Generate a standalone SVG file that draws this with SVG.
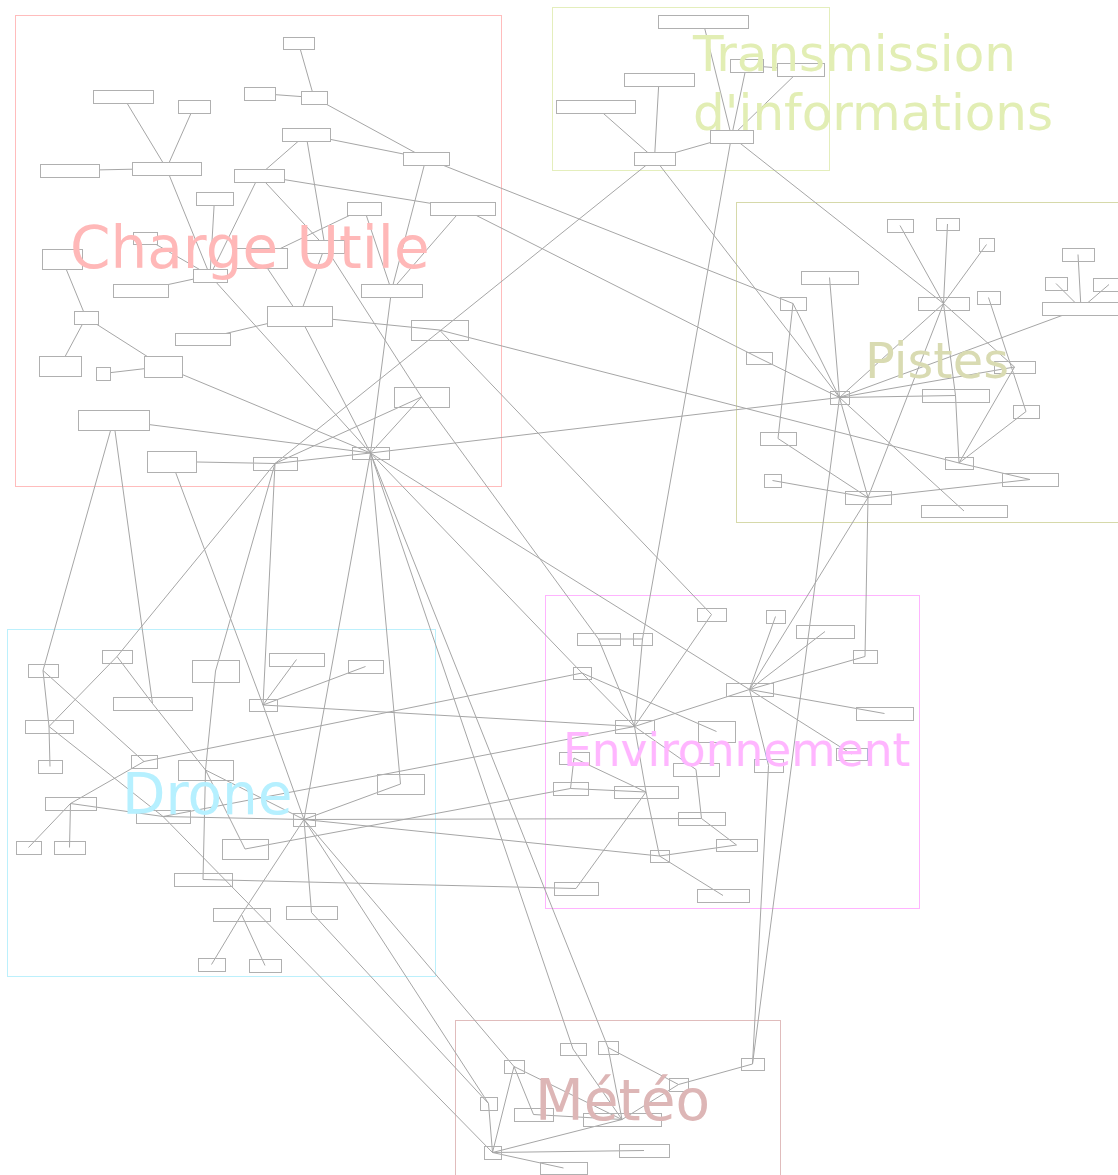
<svg xmlns="http://www.w3.org/2000/svg" width="1118" height="1175" viewBox="0 0 1118 1175">
<style>
.fr{fill:none;stroke-width:1}
.e line{stroke:#a6a6a6;stroke-width:1;fill:none}
.n rect{fill:none;stroke:#b0b0b0;stroke-width:1}
.n .o{fill:#fff}
.lb{font-family:"DejaVu Sans","Verdana",sans-serif}
</style>
<rect width="1118" height="1175" fill="#fff"/>
<g id="frames">
<rect class="fr" x="15.5" y="15.5" width="486" height="471" stroke="#ffbcbc"/>
<rect class="fr" x="552.5" y="7.5" width="277" height="163" stroke="#e4eebc"/>
<rect class="fr" x="736.5" y="202.5" width="400" height="320" stroke="#d6d9aa"/>
<rect class="fr" x="545.5" y="595.5" width="374" height="313" stroke="#ffb4ff"/>
<rect class="fr" x="7.5" y="629.5" width="428" height="347" stroke="#bcf0fc"/>
<rect class="fr" x="455.5" y="1020.5" width="325" height="170" stroke="#e0bcbc"/>
</g>
<g id="connectors" class="e">
<line x1="298.5" y1="43" x2="314" y2="97.5"/>
<line x1="259.5" y1="93.5" x2="314" y2="97.5"/>
<line x1="314" y1="97.5" x2="426" y2="158.5"/>
<line x1="123" y1="96.5" x2="166.5" y2="168.5"/>
<line x1="194" y1="106.5" x2="166.5" y2="168.5"/>
<line x1="69.5" y1="170.5" x2="166.5" y2="168.5"/>
<line x1="166.5" y1="168.5" x2="210" y2="275.5"/>
<line x1="306" y1="134.5" x2="426" y2="158.5"/>
<line x1="306" y1="134.5" x2="259" y2="175.5"/>
<line x1="306" y1="134.5" x2="325" y2="246.5"/>
<line x1="259" y1="175.5" x2="462.5" y2="208.5"/>
<line x1="259" y1="175.5" x2="210" y2="275.5"/>
<line x1="259" y1="175.5" x2="325" y2="246.5"/>
<line x1="214.5" y1="198.5" x2="210" y2="275.5"/>
<line x1="364" y1="208.5" x2="260.5" y2="258"/>
<line x1="364" y1="208.5" x2="391.5" y2="290.5"/>
<line x1="462.5" y1="208.5" x2="391.5" y2="290.5"/>
<line x1="426" y1="158.5" x2="391.5" y2="290.5"/>
<line x1="145" y1="238" x2="210" y2="275.5"/>
<line x1="62" y1="259" x2="86" y2="317.5"/>
<line x1="86" y1="317.5" x2="60" y2="366"/>
<line x1="86" y1="317.5" x2="163" y2="366.5"/>
<line x1="103" y1="373.5" x2="163" y2="366.5"/>
<line x1="140.5" y1="290.5" x2="210" y2="275.5"/>
<line x1="210" y1="275.5" x2="370.5" y2="453"/>
<line x1="260.5" y1="258" x2="299.5" y2="316"/>
<line x1="325" y1="246.5" x2="299.5" y2="316"/>
<line x1="325" y1="246.5" x2="421.5" y2="397"/>
<line x1="202.5" y1="339" x2="299.5" y2="316"/>
<line x1="299.5" y1="316" x2="439.5" y2="330"/>
<line x1="299.5" y1="316" x2="370.5" y2="453"/>
<line x1="391.5" y1="290.5" x2="370.5" y2="453"/>
<line x1="163" y1="366.5" x2="370.5" y2="453"/>
<line x1="113.5" y1="420" x2="370.5" y2="453"/>
<line x1="171.5" y1="461.5" x2="275" y2="463.5"/>
<line x1="275" y1="463.5" x2="370.5" y2="453"/>
<line x1="421.5" y1="397" x2="370.5" y2="453"/>
<line x1="421.5" y1="397" x2="275" y2="463.5"/>
<line x1="426" y1="158.5" x2="793" y2="303.5"/>
<line x1="462.5" y1="208.5" x2="759" y2="358"/>
<line x1="439.5" y1="330" x2="959" y2="463"/>
<line x1="370.5" y1="453" x2="839.5" y2="397.5"/>
<line x1="275" y1="463.5" x2="654.5" y2="158.5"/>
<line x1="439.5" y1="330" x2="711.5" y2="614.5"/>
<line x1="421.5" y1="397" x2="598.5" y2="639"/>
<line x1="113.5" y1="420" x2="43" y2="670.5"/>
<line x1="113.5" y1="420" x2="152.5" y2="703.5"/>
<line x1="171.5" y1="461.5" x2="263" y2="705"/>
<line x1="275" y1="463.5" x2="117" y2="656.5"/>
<line x1="275" y1="463.5" x2="215.5" y2="671"/>
<line x1="275" y1="463.5" x2="263" y2="705"/>
<line x1="370.5" y1="453" x2="400.5" y2="784"/>
<line x1="370.5" y1="453" x2="304" y2="819.5"/>
<line x1="370.5" y1="453" x2="582" y2="673"/>
<line x1="370.5" y1="453" x2="749.5" y2="689.5"/>
<line x1="370.5" y1="453" x2="573" y2="1049"/>
<line x1="370.5" y1="453" x2="608" y2="1047.5"/>
<line x1="703" y1="21.5" x2="731.5" y2="136.5"/>
<line x1="746.5" y1="65.5" x2="731.5" y2="136.5"/>
<line x1="746.5" y1="65.5" x2="800.5" y2="69.5"/>
<line x1="800.5" y1="69.5" x2="731.5" y2="136.5"/>
<line x1="659" y1="79.5" x2="654.5" y2="158.5"/>
<line x1="595.5" y1="106.5" x2="654.5" y2="158.5"/>
<line x1="731.5" y1="136.5" x2="654.5" y2="158.5"/>
<line x1="654.5" y1="158.5" x2="839.5" y2="397.5"/>
<line x1="731.5" y1="136.5" x2="642.5" y2="639"/>
<line x1="731.5" y1="136.5" x2="943.5" y2="303.5"/>
<line x1="900" y1="225.5" x2="943.5" y2="303.5"/>
<line x1="947.5" y1="224" x2="943.5" y2="303.5"/>
<line x1="986.5" y1="244.5" x2="943.5" y2="303.5"/>
<line x1="1078" y1="254.5" x2="1081" y2="308.5"/>
<line x1="1056" y1="283.5" x2="1081" y2="308.5"/>
<line x1="1109" y1="284.5" x2="1081" y2="308.5"/>
<line x1="1081" y1="308.5" x2="839.5" y2="397.5"/>
<line x1="829.5" y1="277.5" x2="839.5" y2="397.5"/>
<line x1="793" y1="303.5" x2="839.5" y2="397.5"/>
<line x1="793" y1="303.5" x2="778" y2="438.5"/>
<line x1="759" y1="358" x2="839.5" y2="397.5"/>
<line x1="943.5" y1="303.5" x2="839.5" y2="397.5"/>
<line x1="943.5" y1="303.5" x2="868" y2="497.5"/>
<line x1="943.5" y1="303.5" x2="955.5" y2="395.5"/>
<line x1="943.5" y1="303.5" x2="1014.5" y2="367"/>
<line x1="988.5" y1="297.5" x2="1026" y2="411.5"/>
<line x1="1014.5" y1="367" x2="839.5" y2="397.5"/>
<line x1="1014.5" y1="367" x2="959" y2="463"/>
<line x1="955.5" y1="395.5" x2="839.5" y2="397.5"/>
<line x1="955.5" y1="395.5" x2="959" y2="463"/>
<line x1="1026" y1="411.5" x2="959" y2="463"/>
<line x1="959" y1="463" x2="1030" y2="479.5"/>
<line x1="839.5" y1="397.5" x2="868" y2="497.5"/>
<line x1="839.5" y1="397.5" x2="964" y2="511"/>
<line x1="839.5" y1="397.5" x2="752.5" y2="1064"/>
<line x1="778" y1="438.5" x2="868" y2="497.5"/>
<line x1="772.5" y1="480.5" x2="868" y2="497.5"/>
<line x1="1030" y1="479.5" x2="868" y2="497.5"/>
<line x1="868" y1="497.5" x2="865" y2="656.5"/>
<line x1="868" y1="497.5" x2="749.5" y2="689.5"/>
<line x1="117" y1="656.5" x2="152.5" y2="703.5"/>
<line x1="117" y1="656.5" x2="49" y2="726.5"/>
<line x1="43" y1="670.5" x2="49" y2="726.5"/>
<line x1="43" y1="670.5" x2="144" y2="761.5"/>
<line x1="49" y1="726.5" x2="50" y2="766.5"/>
<line x1="49" y1="726.5" x2="163" y2="816.5"/>
<line x1="163" y1="816.5" x2="492.5" y2="1152.5"/>
<line x1="144" y1="761.5" x2="70.5" y2="803.5"/>
<line x1="144" y1="761.5" x2="582" y2="673"/>
<line x1="70.5" y1="803.5" x2="28.5" y2="847.5"/>
<line x1="70.5" y1="803.5" x2="69.5" y2="847.5"/>
<line x1="70.5" y1="803.5" x2="163" y2="816.5"/>
<line x1="163" y1="816.5" x2="304" y2="819.5"/>
<line x1="152.5" y1="703.5" x2="205.5" y2="770"/>
<line x1="215.5" y1="671" x2="205.5" y2="770"/>
<line x1="205.5" y1="770" x2="203" y2="879.5"/>
<line x1="205.5" y1="770" x2="245" y2="849"/>
<line x1="205.5" y1="770" x2="304" y2="819.5"/>
<line x1="296.5" y1="659.5" x2="263" y2="705"/>
<line x1="365.5" y1="666.5" x2="263" y2="705"/>
<line x1="263" y1="705" x2="634.5" y2="726.5"/>
<line x1="263" y1="705" x2="304" y2="819.5"/>
<line x1="400.5" y1="784" x2="304" y2="819.5"/>
<line x1="304" y1="819.5" x2="241.5" y2="914.5"/>
<line x1="304" y1="819.5" x2="311.5" y2="912.5"/>
<line x1="304" y1="819.5" x2="514" y2="1066.5"/>
<line x1="304" y1="819.5" x2="488.5" y2="1103.5"/>
<line x1="311.5" y1="912.5" x2="488.5" y2="1103.5"/>
<line x1="241.5" y1="914.5" x2="211.5" y2="964.5"/>
<line x1="241.5" y1="914.5" x2="265" y2="965.5"/>
<line x1="163" y1="816.5" x2="634.5" y2="726.5"/>
<line x1="245" y1="849" x2="570.5" y2="788.5"/>
<line x1="304" y1="819.5" x2="701.5" y2="818.5"/>
<line x1="304" y1="819.5" x2="659.5" y2="856"/>
<line x1="203" y1="879.5" x2="576" y2="888.5"/>
<line x1="598.5" y1="639" x2="642.5" y2="639"/>
<line x1="598.5" y1="639" x2="634.5" y2="726.5"/>
<line x1="642.5" y1="639" x2="634.5" y2="726.5"/>
<line x1="711.5" y1="614.5" x2="634.5" y2="726.5"/>
<line x1="582" y1="673" x2="634.5" y2="726.5"/>
<line x1="582" y1="673" x2="716.5" y2="731.5"/>
<line x1="634.5" y1="726.5" x2="749.5" y2="689.5"/>
<line x1="775.5" y1="616.5" x2="749.5" y2="689.5"/>
<line x1="825" y1="631.5" x2="749.5" y2="689.5"/>
<line x1="865" y1="656.5" x2="749.5" y2="689.5"/>
<line x1="749.5" y1="689.5" x2="884.5" y2="713.5"/>
<line x1="749.5" y1="689.5" x2="851.5" y2="754"/>
<line x1="749.5" y1="689.5" x2="768.5" y2="765.5"/>
<line x1="768.5" y1="765.5" x2="752.5" y2="1064"/>
<line x1="634.5" y1="726.5" x2="646" y2="792"/>
<line x1="634.5" y1="726.5" x2="696" y2="769.5"/>
<line x1="574" y1="758" x2="570.5" y2="788.5"/>
<line x1="574" y1="758" x2="646" y2="792"/>
<line x1="570.5" y1="788.5" x2="646" y2="792"/>
<line x1="646" y1="792" x2="576" y2="888.5"/>
<line x1="646" y1="792" x2="659.5" y2="856"/>
<line x1="696" y1="769.5" x2="701.5" y2="818.5"/>
<line x1="701.5" y1="818.5" x2="736.5" y2="845"/>
<line x1="659.5" y1="856" x2="736.5" y2="845"/>
<line x1="659.5" y1="856" x2="723" y2="895.5"/>
<line x1="573" y1="1049" x2="622" y2="1119.5"/>
<line x1="608" y1="1047.5" x2="622" y2="1119.5"/>
<line x1="608" y1="1047.5" x2="678.5" y2="1084.5"/>
<line x1="678.5" y1="1084.5" x2="752.5" y2="1064"/>
<line x1="678.5" y1="1084.5" x2="622" y2="1119.5"/>
<line x1="514" y1="1066.5" x2="533.5" y2="1114.5"/>
<line x1="514" y1="1066.5" x2="622" y2="1119.5"/>
<line x1="514" y1="1066.5" x2="492.5" y2="1152.5"/>
<line x1="488.5" y1="1103.5" x2="492.5" y2="1152.5"/>
<line x1="533.5" y1="1114.5" x2="622" y2="1119.5"/>
<line x1="622" y1="1119.5" x2="492.5" y2="1152.5"/>
<line x1="492.5" y1="1152.5" x2="644" y2="1150.5"/>
<line x1="492.5" y1="1152.5" x2="563.5" y2="1168"/>
</g>
<g id="nodes" class="n" transform="translate(0.5 0.5)">
<g id="c1"><rect class="o" x="283" y="37" width="31" height="12"/></g>
<g id="c2"><rect class="o" x="301" y="91" width="26" height="13"/></g>
<g id="c3"><rect class="o" x="244" y="87" width="31" height="13"/></g>
<g id="c4"><rect class="o" x="93" y="90" width="60" height="13"/></g>
<g id="c5"><rect class="o" x="178" y="100" width="32" height="13"/></g>
<g id="c6"><rect class="o" x="132" y="162" width="69" height="13"/></g>
<g id="c7"><rect class="o" x="40" y="164" width="59" height="13"/></g>
<g id="c8"><rect class="o" x="282" y="128" width="48" height="13"/></g>
<g id="c9"><rect class="o" x="403" y="152" width="46" height="13"/></g>
<g id="c10"><rect class="o" x="234" y="169" width="50" height="13"/></g>
<g id="c11"><rect class="o" x="196" y="192" width="37" height="13"/></g>
<g id="c12"><rect class="o" x="347" y="202" width="34" height="13"/></g>
<g id="c13"><rect class="o" x="430" y="202" width="65" height="13"/></g>
<g id="c14"><rect class="o" x="193" y="269" width="34" height="13"/></g>
<g id="c15"><rect class="o" x="234" y="248" width="53" height="20"/></g>
<g id="c16"><rect class="o" x="306" y="240" width="38" height="13"/></g>
<g id="c17"><rect class="o" x="267" y="306" width="65" height="20"/></g>
<g id="c18"><rect x="394" y="387" width="55" height="20"/></g>
<g id="c19"><rect class="o" x="361" y="284" width="61" height="13"/></g>
<g id="c20"><rect class="o" x="133" y="232" width="24" height="12"/></g>
<g id="c21"><rect class="o" x="42" y="249" width="40" height="20"/></g>
<g id="c22"><rect class="o" x="74" y="311" width="24" height="13"/></g>
<g id="c23"><rect class="o" x="113" y="284" width="55" height="13"/></g>
<g id="c24"><rect class="o" x="175" y="333" width="55" height="12"/></g>
<g id="c25"><rect x="411" y="320" width="57" height="20"/></g>
<g id="c26"><rect class="o" x="39" y="356" width="42" height="20"/></g>
<g id="c27"><rect class="o" x="96" y="367" width="14" height="13"/></g>
<g id="c28"><rect class="o" x="144" y="356" width="38" height="21"/></g>
<g id="c29"><rect class="o" x="78" y="410" width="71" height="20"/></g>
<g id="c30"><rect class="o" x="147" y="451" width="49" height="21"/></g>
<g id="c31"><rect x="253" y="457" width="44" height="13"/></g>
<g id="h"><rect x="352" y="447" width="37" height="12"/></g>
<g id="t1"><rect class="o" x="658" y="15" width="90" height="13"/></g>
<g id="t2"><rect class="o" x="624" y="73" width="70" height="13"/></g>
<g id="t3"><rect class="o" x="556" y="100" width="79" height="13"/></g>
<g id="t4"><rect class="o" x="730" y="59" width="33" height="13"/></g>
<g id="t5"><rect class="o" x="777" y="63" width="47" height="13"/></g>
<g id="t6"><rect class="o" x="710" y="130" width="43" height="13"/></g>
<g id="t7"><rect class="o" x="634" y="152" width="41" height="13"/></g>
<g id="p1"><rect x="887" y="219" width="26" height="13"/></g>
<g id="p2"><rect x="936" y="218" width="23" height="12"/></g>
<g id="p3"><rect x="979" y="238" width="15" height="13"/></g>
<g id="p4"><rect x="1062" y="248" width="32" height="13"/></g>
<g id="p5"><rect x="1045" y="277" width="22" height="13"/></g>
<g id="p6"><rect x="1093" y="278" width="32" height="13"/></g>
<g id="p7"><rect class="o" x="1042" y="302" width="78" height="13"/></g>
<g id="p8"><rect x="801" y="271" width="57" height="13"/></g>
<g id="p9"><rect x="780" y="297" width="26" height="13"/></g>
<g id="p10"><rect x="918" y="297" width="51" height="13"/></g>
<g id="p11"><rect x="977" y="291" width="23" height="13"/></g>
<g id="p12"><rect x="746" y="352" width="26" height="12"/></g>
<g id="p13"><rect x="994" y="361" width="41" height="12"/></g>
<g id="p14"><rect x="830" y="391" width="19" height="13"/></g>
<g id="p15"><rect x="922" y="389" width="67" height="13"/></g>
<g id="p16"><rect x="1013" y="405" width="26" height="13"/></g>
<g id="p17"><rect x="760" y="432" width="36" height="13"/></g>
<g id="p18"><rect x="945" y="457" width="28" height="12"/></g>
<g id="p19"><rect x="764" y="474" width="17" height="13"/></g>
<g id="p20"><rect x="1002" y="473" width="56" height="13"/></g>
<g id="p21"><rect x="845" y="491" width="46" height="13"/></g>
<g id="p22"><rect x="921" y="505" width="86" height="12"/></g>
<g id="d1"><rect x="28" y="664" width="30" height="13"/></g>
<g id="d2"><rect x="102" y="650" width="30" height="13"/></g>
<g id="d3"><rect x="192" y="660" width="47" height="22"/></g>
<g id="d4"><rect x="269" y="653" width="55" height="13"/></g>
<g id="d5"><rect x="348" y="660" width="35" height="13"/></g>
<g id="d6"><rect x="113" y="697" width="79" height="13"/></g>
<g id="d7"><rect x="249" y="699" width="28" height="12"/></g>
<g id="d8"><rect x="25" y="720" width="48" height="13"/></g>
<g id="d9"><rect x="38" y="760" width="24" height="13"/></g>
<g id="d10"><rect x="131" y="755" width="26" height="13"/></g>
<g id="d11"><rect x="178" y="760" width="55" height="20"/></g>
<g id="d12"><rect x="377" y="774" width="47" height="20"/></g>
<g id="d13"><rect x="45" y="797" width="51" height="13"/></g>
<g id="d14"><rect x="136" y="810" width="54" height="13"/></g>
<g id="d15"><rect x="293" y="813" width="22" height="13"/></g>
<g id="d16"><rect x="16" y="841" width="25" height="13"/></g>
<g id="d17"><rect x="54" y="841" width="31" height="13"/></g>
<g id="d18"><rect x="222" y="839" width="46" height="20"/></g>
<g id="d19"><rect x="174" y="873" width="58" height="13"/></g>
<g id="d20"><rect x="213" y="908" width="57" height="13"/></g>
<g id="d21"><rect x="286" y="906" width="51" height="13"/></g>
<g id="d22"><rect x="198" y="958" width="27" height="13"/></g>
<g id="d23"><rect x="249" y="959" width="32" height="13"/></g>
<g id="e1"><rect x="577" y="633" width="43" height="12"/></g>
<g id="e2"><rect x="633" y="633" width="19" height="12"/></g>
<g id="e3"><rect x="697" y="608" width="29" height="13"/></g>
<g id="e4"><rect x="766" y="610" width="19" height="13"/></g>
<g id="e5"><rect x="796" y="625" width="58" height="13"/></g>
<g id="e6"><rect x="853" y="650" width="24" height="13"/></g>
<g id="e7"><rect x="573" y="667" width="18" height="12"/></g>
<g id="e8"><rect x="726" y="683" width="47" height="13"/></g>
<g id="e9"><rect x="856" y="707" width="57" height="13"/></g>
<g id="e10"><rect x="615" y="720" width="39" height="13"/></g>
<g id="e11"><rect x="698" y="721" width="37" height="21"/></g>
<g id="e12"><rect x="559" y="752" width="30" height="12"/></g>
<g id="e13"><rect x="673" y="763" width="46" height="13"/></g>
<g id="e14"><rect x="754" y="759" width="29" height="13"/></g>
<g id="e15"><rect x="836" y="748" width="31" height="12"/></g>
<g id="e16"><rect x="553" y="782" width="35" height="13"/></g>
<g id="e17"><rect x="614" y="786" width="64" height="12"/></g>
<g id="e18"><rect x="678" y="812" width="47" height="13"/></g>
<g id="e19"><rect x="716" y="839" width="41" height="12"/></g>
<g id="e20"><rect x="650" y="850" width="19" height="12"/></g>
<g id="e21"><rect x="554" y="882" width="44" height="13"/></g>
<g id="e22"><rect x="697" y="889" width="52" height="13"/></g>
<g id="m1"><rect x="560" y="1043" width="26" height="12"/></g>
<g id="m2"><rect x="598" y="1041" width="20" height="13"/></g>
<g id="m3"><rect x="504" y="1060" width="20" height="13"/></g>
<g id="m4"><rect x="741" y="1058" width="23" height="12"/></g>
<g id="m5"><rect x="669" y="1078" width="19" height="13"/></g>
<g id="m6"><rect x="480" y="1097" width="17" height="13"/></g>
<g id="m7"><rect x="514" y="1108" width="39" height="13"/></g>
<g id="m8"><rect x="583" y="1113" width="78" height="13"/></g>
<g id="m9"><rect x="484" y="1146" width="17" height="13"/></g>
<g id="m10"><rect x="619" y="1144" width="50" height="13"/></g>
<g id="m11"><rect x="540" y="1162" width="47" height="12"/></g>
</g>
<g id="labels" class="lb">
<text x="70" y="268" font-size="58" fill="#ffb8b8">Charge Utile</text>
<text x="693" y="71" font-size="50" fill="#e2eeb4">Transmission</text>
<text x="693" y="130" font-size="50" fill="#e2eeb4">d'informations</text>
<text x="865" y="378" font-size="49.5" fill="#d9dbb2">Pistes</text>
<text x="563" y="766" font-size="45.5" fill="#ffb6ff">Environnement</text>
<text x="122" y="814" font-size="56.5" fill="#b6f0ff">Drone</text>
<text x="535" y="1120" font-size="56.5" fill="#ddb6b6">Météo</text>
</g>
</svg>
